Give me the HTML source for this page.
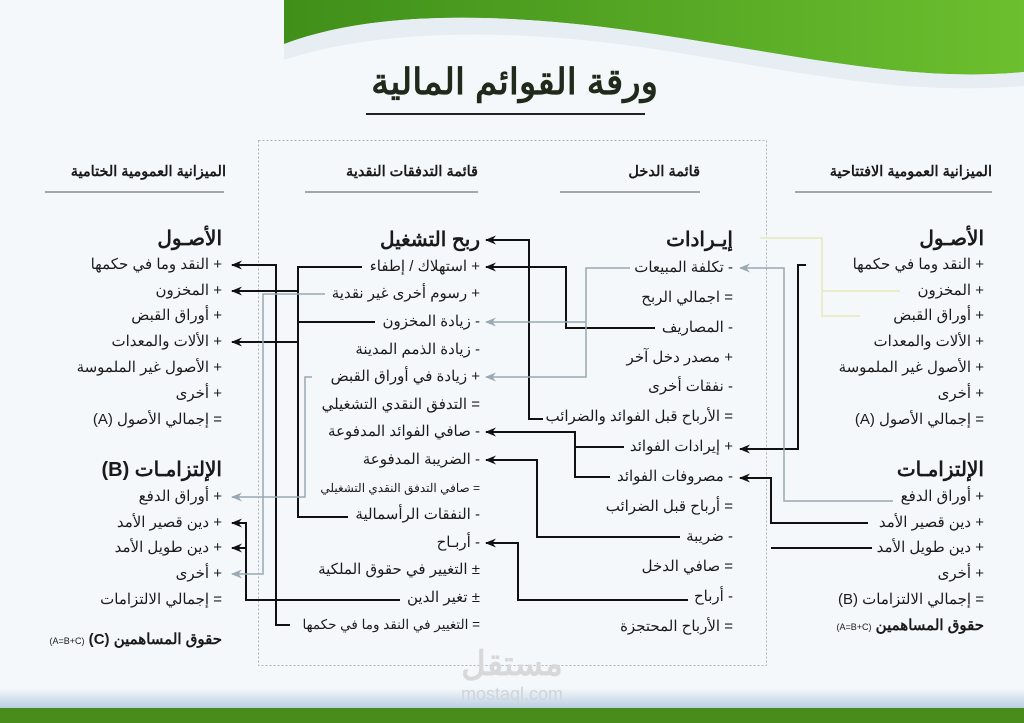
<!DOCTYPE html>
<html><head><meta charset="utf-8">
<style>
html,body{margin:0;padding:0}
body{width:1024px;height:723px;position:relative;overflow:hidden;background:#f5f8fb;font-family:"Liberation Sans","Noto Sans CJK SC",sans-serif;color:#1a1a1a}
.t{position:absolute;direction:rtl;white-space:nowrap;font-size:15px;line-height:18px;transform:translateY(-9px)}
.h{font-size:20px;font-weight:bold;line-height:24px;transform:translateY(-12px)}
.c{font-size:14.5px;font-weight:bold}
svg{position:absolute;left:0;top:0}
</style></head><body>
<svg width="1024" height="723">
<defs>
<linearGradient id="g" x1="0" x2="1" y1="0" y2="0"><stop offset="0" stop-color="#3f8f1a"/><stop offset="1" stop-color="#6cbf2e"/></linearGradient>
<linearGradient id="b" x1="0" x2="0" y1="0" y2="1"><stop offset="0" stop-color="#f5f8fb"/><stop offset="1" stop-color="#b9cfe2"/></linearGradient>
<marker id="ak" markerWidth="11" markerHeight="9" refX="10" refY="4.5" orient="auto" markerUnits="userSpaceOnUse"><path d="M11,4.5 L0,0 L3.5,4.5 L0,9 Z" fill="#111"/></marker>
<marker id="ag" markerWidth="11" markerHeight="9" refX="10" refY="4.5" orient="auto" markerUnits="userSpaceOnUse"><path d="M11,4.5 L0,0 L3.5,4.5 L0,9 Z" fill="#9aa8b2"/></marker>
</defs>
<path d="M284,0 L1024,0 L1024,72 C920,82 820,60 680,38 C520,12 380,8 284,44 Z" fill="url(#g)"/>
<path d="M284,44 C380,8 520,12 680,38 C820,60 920,82 1024,72 L1024,86 C900,96 800,72 660,50 C520,28 380,28 284,60 Z" fill="#e6eef4"/>
<rect x="0" y="688" width="1024" height="20" fill="url(#b)"/>
<rect x="0" y="708" width="1024" height="15" fill="#4a8c1c"/>
<line x1="366" y1="114" x2="645" y2="114" stroke="#222" stroke-width="2"/>
<rect x="258.5" y="140.5" width="508" height="525" fill="none" stroke="#aab4bd" stroke-dasharray="2,2"/>
<g stroke="#555" stroke-width="1"><line x1="45" y1="192" x2="224" y2="192"/><line x1="305" y1="192" x2="478" y2="192"/><line x1="560" y1="192" x2="700" y2="192"/><line x1="795" y1="192" x2="992" y2="192"/></g>
<g fill="none" stroke="#e8ecc8" stroke-width="2"><polyline points="760,238 822,238 822,316 860,316"/><line x1="822" y1="291" x2="900" y2="291"/></g>
<g fill="none" stroke="#111" stroke-width="2">
<polyline points="290,625 276,625 276,265 232,265" marker-end="url(#ak)"/>
<polyline points="362,267 298,267 298,517 348,517"/>
<line x1="298" y1="291" x2="232" y2="291" marker-end="url(#ak)"/>
<line x1="298" y1="342" x2="232" y2="342" marker-end="url(#ak)"/>
<line x1="298" y1="322" x2="375" y2="322"/>
<polyline points="400,600 246,600 246,523 232,523" marker-end="url(#ak)"/>
<line x1="246" y1="548" x2="232" y2="548" marker-end="url(#ak)"/>
<polyline points="543,419 529,419 529,240 486,240" marker-end="url(#ak)"/>
<polyline points="655,328 566,328 566,267 486,267" marker-end="url(#ak)"/>
<polyline points="624,447 575,447 575,432 486,432" marker-end="url(#ak)"/>
<polyline points="610,477 575,477 575,447"/>
<polyline points="680,537 537,537 537,460 486,460" marker-end="url(#ak)"/>
<polyline points="688,600 518,600 518,543 486,543" marker-end="url(#ak)"/>
<polyline points="806,265 798,265 798,449 740,449" marker-end="url(#ak)"/>
<polyline points="868,523 771,523 771,478 740,478" marker-end="url(#ak)"/>
<line x1="771" y1="548" x2="872" y2="548"/>
</g>
<g fill="none" stroke="#9aa8b2" stroke-width="1.5">
<polyline points="325,294 263,294 263,574 232,574" marker-end="url(#ag)"/>
<polyline points="312,377 305,377 305,497 232,497" marker-end="url(#ag)"/>
<polyline points="630,268 586,268 586,377 486,377" marker-end="url(#ag)"/>
<line x1="586" y1="322" x2="486" y2="322" marker-end="url(#ag)"/>
<polyline points="893,501 784,501 784,268 740,268" marker-end="url(#ag)"/>
</g>
<text x="512" y="675" text-anchor="middle" font-family="Liberation Sans, Noto Sans CJK SC, sans-serif" font-size="34" font-weight="bold" fill="#d8d8d8">مستقل</text>
<text x="512" y="700" text-anchor="middle" font-family="Liberation Sans, sans-serif" font-size="18" fill="#d0d4d8">mostaql.com</text>
</svg>
<div class="t" style="right:366px;top:82px;font-size:36px;line-height:42px;transform:translateY(-21px);font-weight:bold;color:#1f2a1a">ورقة القوائم المالية</div>

<div class="t c" style="right:32px;top:172px">الميزانية العمومية الافتتاحية</div>
<div class="t c" style="right:324px;top:172px">قائمة الدخل</div>
<div class="t c" style="right:546px;top:172px">قائمة التدفقات النقدية</div>
<div class="t c" style="right:798px;top:172px">الميزانية العمومية الختامية</div>

<div class="t h" style="right:40px;top:239px">الأصـول</div>
<div class="t" style="right:40px;top:265px">+ النقد وما في حكمها</div>
<div class="t" style="right:40px;top:291px">+ المخزون</div>
<div class="t" style="right:40px;top:316px">+ أوراق القبض</div>
<div class="t" style="right:40px;top:342px">+ الألات والمعدات</div>
<div class="t" style="right:40px;top:368px">+ الأصول غير الملموسة</div>
<div class="t" style="right:40px;top:394px">+ أخرى</div>
<div class="t" style="right:40px;top:420px">= إجمالي الأصول (A)</div>
<div class="t h" style="right:40px;top:470px">الإلتزامـات</div>
<div class="t" style="right:40px;top:497px">+ أوراق الدفع</div>
<div class="t" style="right:40px;top:523px">+ دين قصير الأمد</div>
<div class="t" style="right:40px;top:548px">+ دين طويل الأمد</div>
<div class="t" style="right:40px;top:574px">+ أخرى</div>
<div class="t" style="right:40px;top:600px">= إجمالي الالتزامات (B)</div>
<div class="t" style="right:40px;top:626px;font-weight:bold">حقوق المساهمين <span style="font-size:9px;font-weight:normal">(A=B+C)</span></div>

<div class="t h" style="right:291px;top:240px">إيـرادات</div>
<div class="t" style="right:291px;top:268px">- تكلفة المبيعات</div>
<div class="t" style="right:291px;top:298px">= اجمالي الربح</div>
<div class="t" style="right:291px;top:328px">- المصاريف</div>
<div class="t" style="right:291px;top:358px">+ مصدر دخل آخر</div>
<div class="t" style="right:291px;top:387px">- نفقات أخرى</div>
<div class="t" style="right:291px;top:417px">= الأرباح قبل الفوائد والضرائب</div>
<div class="t" style="right:291px;top:447px">+ إيرادات الفوائد</div>
<div class="t" style="right:291px;top:477px">- مصروفات الفوائد</div>
<div class="t" style="right:291px;top:507px">= أرباح قبل الضرائب</div>
<div class="t" style="right:291px;top:537px">- ضريبة</div>
<div class="t" style="right:291px;top:567px">= صافي الدخل</div>
<div class="t" style="right:291px;top:597px">- أرباح</div>
<div class="t" style="right:291px;top:627px">= الأرباح المحتجزة</div>

<div class="t h" style="right:544px;top:240px">ربح التشغيل</div>
<div class="t" style="right:544px;top:267px">+ استهلاك / إطفاء</div>
<div class="t" style="right:544px;top:294px">+ رسوم أخرى غير نقدية</div>
<div class="t" style="right:544px;top:322px">- زيادة المخزون</div>
<div class="t" style="right:544px;top:350px">- زيادة الذمم المدينة</div>
<div class="t" style="right:544px;top:377px">+ زيادة في أوراق القبض</div>
<div class="t" style="right:544px;top:405px">= التدفق النقدي التشغيلي</div>
<div class="t" style="right:544px;top:432px">- صافي الفوائد المدفوعة</div>
<div class="t" style="right:544px;top:460px">- الضريبة المدفوعة</div>
<div class="t" style="right:544px;top:488px;font-size:12px">= صافي التدفق النقدي التشغيلي</div>
<div class="t" style="right:544px;top:515px">- النفقات الرأسمالية</div>
<div class="t" style="right:544px;top:543px">- أربـاح</div>
<div class="t" style="right:544px;top:570px">± التغيير في حقوق الملكية</div>
<div class="t" style="right:544px;top:598px">± تغير الدين</div>
<div class="t" style="right:544px;top:625px;font-size:13.5px">= التغيير في النقد وما في حكمها</div>

<div class="t h" style="right:802px;top:239px">الأصـول</div>
<div class="t" style="right:802px;top:265px">+ النقد وما في حكمها</div>
<div class="t" style="right:802px;top:291px">+ المخزون</div>
<div class="t" style="right:802px;top:316px">+ أوراق القبض</div>
<div class="t" style="right:802px;top:342px">+ الألات والمعدات</div>
<div class="t" style="right:802px;top:368px">+ الأصول غير الملموسة</div>
<div class="t" style="right:802px;top:394px">+ أخرى</div>
<div class="t" style="right:802px;top:420px">= إجمالي الأصول (A)</div>
<div class="t h" style="right:802px;top:470px">الإلتزامـات (B)</div>
<div class="t" style="right:802px;top:497px">+ أوراق الدفع</div>
<div class="t" style="right:802px;top:523px">+ دين قصير الأمد</div>
<div class="t" style="right:802px;top:548px">+ دين طويل الأمد</div>
<div class="t" style="right:802px;top:574px">+ أخرى</div>
<div class="t" style="right:802px;top:600px">= إجمالي الالتزامات</div>
<div class="t" style="right:802px;top:640px;font-weight:bold">حقوق المساهمين (C) <span style="font-size:9px;font-weight:normal">(A=B+C)</span></div>
</body></html>
